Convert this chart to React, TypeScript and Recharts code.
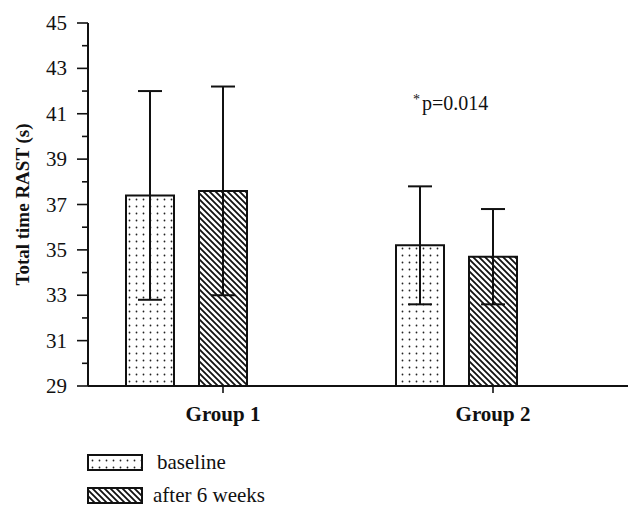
import { BarChart, Bar, XAxis, YAxis, ErrorBar, ReferenceDot } from "recharts";

const groups = ["Group 1", "Group 2"];
const baseline = [37.4, 35.2];
const baselineErr: [number, number][] = [[4.6, 4.6], [2.6, 2.6]];
const after6 = [37.6, 34.7];
const after6Err: [number, number][] = [[4.6, 4.6], [2.1, 2.1]];
const yTicks = [29, 30, 31, 32, 33, 34, 35, 36, 37, 38, 39, 40, 41, 42, 43, 44, 45];
const seriesNames = ["baseline", "after 6 weeks"];
const pLabel = "p=0.014";

const data = groups.map((g, i) => ({
  group: g,
  baseline: baseline[i],
  baselineErr: baselineErr[i],
  after: after6[i],
  afterErr: after6Err[i],
}));

const FONT = "'Liberation Serif', 'DejaVu Serif', serif";

function YTick({ x, y, payload }: any) {
  const major = payload.value % 2 === 1;
  return (
    <g>
      <line x1={x - (major ? 11 : 6)} x2={x} y1={y} y2={y} stroke="#111" strokeWidth={1.6} />
      {major && (
        <text x={x - 21} y={y} dy={7} textAnchor="end" fontFamily={FONT} fontSize={21} fill="#111">
          {payload.value}
        </text>
      )}
    </g>
  );
}

function LegendBox() {
  return (
    <svg width={360} height={64} style={{ display: "block", overflow: "visible" }}>
      <defs>
        <pattern id="lgDots" patternUnits="userSpaceOnUse" width="7" height="7" x="2" y="4">
          <circle cx="3.5" cy="3.5" r="0.9" fill="#222" />
        </pattern>
        <pattern id="lgHatch" patternUnits="userSpaceOnUse" width="6" height="6">
          <path d="M0,0 L6,6 M-1,5 L1,7 M5,-1 L7,1" stroke="#111" strokeWidth="1.8" />
        </pattern>
      </defs>
      <rect x={1} y={2} width={54} height={15} fill="url(#lgDots)" stroke="#111" strokeWidth={2} />
      <text x={70} y={16} fontFamily={FONT} fontSize={21} fill="#111">{seriesNames[0]}</text>
      <rect x={1} y={35} width={54} height={15} fill="url(#lgHatch)" stroke="#111" strokeWidth={2} />
      <text x={66} y={49} fontFamily={FONT} fontSize={21} fill="#111">{seriesNames[1]}</text>
    </svg>
  );
}

function PLabel({ viewBox }: any) {
  const { x, y } = viewBox || {};
  return (
    <text x={x - 80} y={y + 7} fontFamily={FONT} fill="#111">
      <tspan fontSize={14} dy={-6}>*</tspan>
      <tspan fontSize={20} dx={2} dy={6}>{pLabel}</tspan>
    </text>
  );
}

export default function App() {
  return (
    <div style={{ position: "absolute", left: 0, top: 0, width: 642, height: 517, background: "#fff" }}>
      <BarChart
        width={642}
        height={517}
        data={data}
        margin={{ top: 23, right: 14, left: 0, bottom: 101 }}
        barSize={48}
        barGap={25}
      >
        <defs>
          <pattern id="dots" patternUnits="userSpaceOnUse" width="7" height="7">
            <circle cx="3.5" cy="3.5" r="0.9" fill="#222" />
          </pattern>
          <pattern id="hatch" patternUnits="userSpaceOnUse" width="6" height="6">
            <path d="M0,0 L6,6 M-1,5 L1,7 M5,-1 L7,1" stroke="#111" strokeWidth="1.8" />
          </pattern>
        </defs>
        <XAxis
          dataKey="group"
          height={30}
          axisLine={{ stroke: "#111", strokeWidth: 2 }}
          tickLine={{ stroke: "#111", strokeWidth: 1.6 }}
          tickSize={7}
          tickMargin={13}
          tick={{ fontFamily: FONT, fontSize: 21, fontWeight: "bold", fill: "#111" }}
        />
        <YAxis
          domain={[29, 45]}
          ticks={yTicks}
          interval={0}
          width={88}
          allowDataOverflow
          axisLine={{ stroke: "#111", strokeWidth: 2 }}
          tickLine={false}
          tickSize={0}
          tickMargin={0}
          tick={<YTick />}
          label={{
            value: "Total time RAST (s)",
            angle: -90,
            position: "insideLeft",
            dx: 17,
            style: { fontFamily: FONT, fontSize: 19, fontWeight: "bold", fill: "#111", textAnchor: "middle" },
          }}
        />
        <Bar dataKey="baseline" name={seriesNames[0]} fill="url(#dots)" stroke="#111" strokeWidth={2} isAnimationActive={false}>
          <ErrorBar dataKey="baselineErr" width={12} stroke="#111" strokeWidth={2} />
        </Bar>
        <Bar dataKey="after" name={seriesNames[1]} fill="url(#hatch)" stroke="#111" strokeWidth={2} isAnimationActive={false}>
          <ErrorBar dataKey="afterErr" width={12} stroke="#111" strokeWidth={2} />
        </Bar>
        <Bar dataKey="spacer" legendType="none" fill="none" isAnimationActive={false} />
        <ReferenceDot x="Group 2" y={41.47} r={0} fill="none" stroke="none" label={<PLabel />} />
      </BarChart>
      <div style={{ position: "absolute", left: 87, top: 453 }}>
        <LegendBox />
      </div>
    </div>
  );
}
